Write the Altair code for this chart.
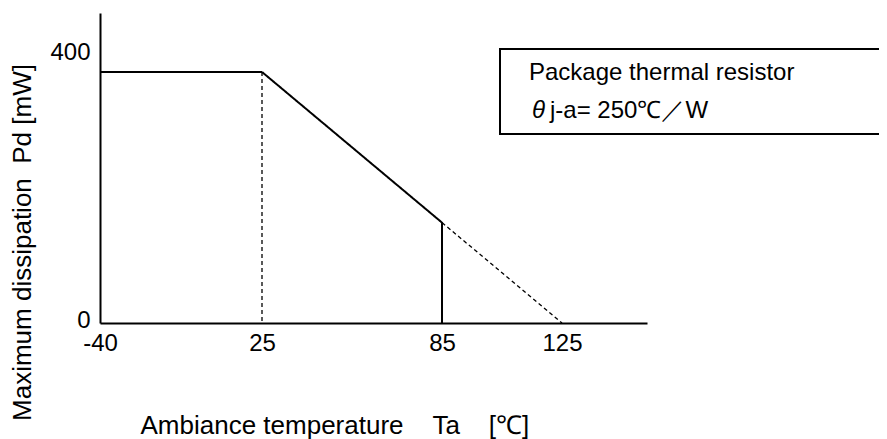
import altair as alt
import pandas as pd

FONT = "Liberation Sans"

# ---- data ----
x_ticks = [-40, 25, 85, 125]
y_ticks = [0, 400]

seg_ids = ["main", "main", "main", "main", "knee", "knee", "ext", "ext"]
seg_style = ["solid", "solid", "solid", "solid", "dashed", "dashed", "dashed", "dashed"]
seg_order = [0, 1, 2, 3, 0, 1, 0, 1]
temps = [-40, 25, 85, 85, 25, 25, 85, 125]
pd_mw = [400, 400, 160, 0, 400, 0, 160, 0]

box_line1 = "Package thermal resistor"
box_theta = "θ"
box_line2 = "j-a= 250℃／W"

NB = "\u00a0"
x_title = "Ambiance temperature" + NB * 4 + "Ta" + NB * 4 + "[℃]"
y_title = "Maximum dissipation" + NB * 2 + "Pd [mW]"

df = pd.DataFrame({"seg": seg_ids, "style": seg_style, "i": seg_order,
                   "t": temps, "pd": pd_mw})

x_enc = alt.X(
    "t:Q",
    scale=alt.Scale(domain=[-40, 25, 153.33], range=[0, 162, 547], nice=False, zero=False),
    axis=alt.Axis(values=x_ticks, title=x_title, ticks=False, tickSize=0, grid=False,
                  domainColor="black", domainWidth=2, labelFontSize=24,
                  labelColor="black", labelPadding=8, labelAngle=0, labelFlush=False,
                  labelOverlap=False, labelExpr="datum.value + ''",
                  titleFontSize=26, titleFontWeight="normal",
                  titleColor="black", titleX=40, titleY=110, titleAlign="left",
                  titleBaseline="alphabetic"),
)
y_enc = alt.Y(
    "pd:Q",
    scale=alt.Scale(domain=[0, 494], nice=False, zero=True),
    axis=alt.Axis(values=y_ticks, title=y_title, ticks=False, tickSize=0, grid=False,
                  domainColor="black", domainWidth=2, labelFontSize=24,
                  labelColor="black", labelPadding=10,
                  labelOffset={"condition": {"test": "datum.value == 400", "value": -19}, "value": -3},
                  titleFontSize=26, titleFontWeight="normal",
                  titleColor="black", titleAngle=270, titleX=-70, titleY=229,
                  titleAlign="center", titleBaseline="alphabetic"),
)

lines = alt.Chart(df).mark_line(color="black").encode(
    x=x_enc,
    y=y_enc,
    detail="seg:N",
    order=alt.Order("i:Q"),
    strokeDash=alt.StrokeDash("style:N", scale=alt.Scale(domain=["solid", "dashed"], range=[[1, 0], [4, 3]]), legend=None),
    strokeWidth=alt.StrokeWidth("style:N", scale=alt.Scale(domain=["solid", "dashed"], range=[2, 1.3]), legend=None),
)

one = pd.DataFrame({"k": [0]})
box_top = alt.Chart(one).mark_rule(color="black", strokeWidth=2).encode(
    x=alt.value(400), x2=alt.value(900), y=alt.value(36))
box_bottom = alt.Chart(one).mark_rule(color="black", strokeWidth=2).encode(
    x=alt.value(400), x2=alt.value(900), y=alt.value(121))
box_left = alt.Chart(one).mark_rule(color="black", strokeWidth=2).encode(
    x=alt.value(400), y=alt.value(35), y2=alt.value(122))
txt1 = alt.Chart(one).mark_text(align="left", baseline="alphabetic", fontSize=24,
                               color="black", text=box_line1).encode(x=alt.value(429), y=alt.value(67))
txt_th = alt.Chart(one).mark_text(align="left", baseline="alphabetic", fontSize=24, fontStyle="italic",
                                 color="black", text=box_theta).encode(x=alt.value(432), y=alt.value(105))
txt2 = alt.Chart(one).mark_text(align="left", baseline="alphabetic", fontSize=24,
                               color="black", text=box_line2).encode(x=alt.value(450), y=alt.value(105))

chart = alt.layer(lines, box_top, box_bottom, box_left, txt1, txt_th, txt2).properties(
    width=547, height=310,
    padding={"left": 92, "top": 5, "right": 232, "bottom": 116},
    autosize=alt.AutoSizeParams(type="none"),
    background="white",
).configure(font=FONT).configure_axis(labelFont=FONT, titleFont=FONT).configure_text(font=FONT).configure_view(stroke=None)

chart.save("out.html", embed_options={"renderer": "svg", "actions": False})
